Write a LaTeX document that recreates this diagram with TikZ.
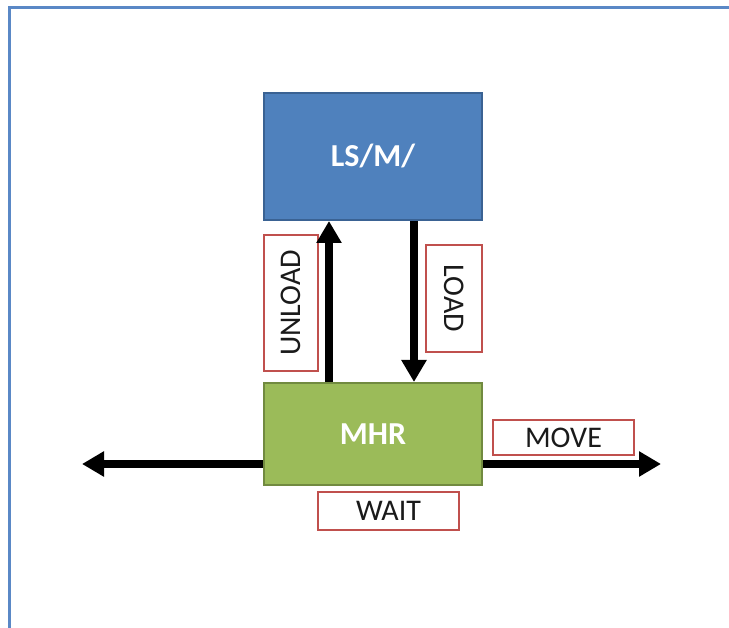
\documentclass[tikz,border=0pt]{standalone}
\usepackage{fontspec}
\setmainfont{Carlito}
\usetikzlibrary{arrows.meta}
\definecolor{frameblue}{HTML}{5A88C6}
\definecolor{boxblue}{HTML}{4F81BD}
\definecolor{boxblueedge}{HTML}{3A6293}
\definecolor{boxgreen}{HTML}{9BBB59}
\definecolor{boxgreenedge}{HTML}{718A40}
\definecolor{labred}{HTML}{C0504D}
\definecolor{labtext}{HTML}{1A1A1A}
\tikzset{
  mainbox/.style={rectangle, line width=2pt, text=white, font=\fontsize{32}{38}\selectfont\bfseries, inner sep=0pt},
  labbox/.style={rectangle, draw=labred, line width=2.6pt, fill=white, text=labtext, font=\fontsize{30}{36}\selectfont, inner sep=0pt},
  flow/.style={line width=7.5pt, -{Triangle[width=24pt,length=22pt]}}
}
\begin{document}
\begin{tikzpicture}[x=1pt,y=-1pt]
\useasboundingbox (0,0) rectangle (729,628);
\draw[frameblue, line width=3pt] (9,628) -- (9,8) -- (729,8);
\node[mainbox, fill=boxblue, draw=boxblueedge, minimum width=218pt, minimum height=127pt] (top) at (373,156.5) {LS/M/};
\node[mainbox, fill=boxgreen, draw=boxgreenedge, minimum width=218pt, minimum height=102pt] (mhr) at (373,434) {MHR};
\node[labbox, minimum width=54pt, minimum height=136pt] (unload) at (291,303) {\rotatebox{90}{UNLOAD}};
\node[labbox, minimum width=56pt, minimum height=107pt] (load) at (454,298.5) {\rotatebox{-90}{LOAD}};
\node[labbox, minimum width=141pt, minimum height=35pt] (move) at (563.5,437.5) {MOVE};
\node[labbox, minimum width=141pt, minimum height=38pt] (wait) at (388.5,511) {WAIT};
\coordinate (leftend) at (82,464);
\coordinate (rightend) at (661,464);
\draw[flow] ([xshift=-44pt]mhr.north) -- ([xshift=-44pt]top.south);
\draw[flow] ([xshift=41pt]top.south) -- ([xshift=41pt]mhr.north);
\draw[flow] ([yshift=-30pt]mhr.west) -- (leftend);
\draw[flow] ([yshift=-30pt]mhr.east) -- (rightend);
\end{tikzpicture}
\end{document}
